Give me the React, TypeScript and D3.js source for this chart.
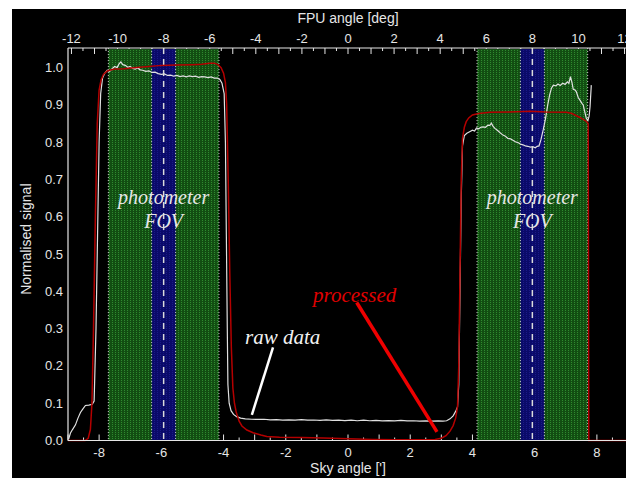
import React from "react";
import * as d3 from "d3";

// raw scan, sky angle ['] and normalised signal
const rawSky = [
  -8.98, -8.92, -8.85, -8.76, -8.68, -8.6, -8.52, -8.44, -8.33, -8.22, -8.16, -8.1, -8.05, -8.0, -7.95,
  -7.89, -7.82, -7.74, -7.66, -7.58, -7.5, -7.42, -7.36, -7.3, -7.24, -7.16, -7.08, -7.0, -6.92, -6.84,
  -6.76, -6.68, -6.6, -6.5, -6.4, -6.3, -6.2, -6.1, -6.0, -5.9, -5.8, -5.7, -5.6, -5.5, -5.4, -5.3, -5.2,
  -5.1, -5.0, -4.9, -4.8, -4.7, -4.6, -4.5, -4.4, -4.3, -4.2, -4.12, -4.05, -3.98, -3.94, -3.91, -3.88,
  -3.86, -3.82, -3.76, -3.68, -3.58, -3.45, -3.3, -3.1, -2.9, -2.7, -2.5, -2.3, -2.1, -1.9, -1.7, -1.5,
  -1.3, -1.1, -0.9, -0.7, -0.5, -0.3, -0.1, 0.1, 0.3, 0.5, 0.7, 0.9, 1.1, 1.3, 1.5, 1.7, 1.9, 2.1, 2.3,
  2.5, 2.7, 2.9, 3.05, 3.17, 3.28, 3.38, 3.46, 3.52, 3.56, 3.6, 3.64, 3.68, 3.74, 3.82, 3.91, 4.0, 4.07,
  4.13, 4.2, 4.27, 4.34, 4.42, 4.5, 4.56, 4.61, 4.66, 4.72, 4.8, 4.88, 4.98, 5.06, 5.14, 5.22, 5.3, 5.38,
  5.46, 5.54, 5.62, 5.7, 5.78, 5.86, 5.94, 6.02, 6.08, 6.14, 6.2, 6.28, 6.35, 6.42, 6.48, 6.54, 6.6, 6.68,
  6.75, 6.82, 6.9, 6.98, 7.05, 7.1, 7.15, 7.2, 7.24, 7.3, 7.34, 7.4, 7.46, 7.52, 7.56, 7.6, 7.66, 7.71,
  7.75, 7.78, 7.82,
];
const rawSignal = [
  0.004, 0.02, 0.03, 0.042, 0.06, 0.075, 0.085, 0.094, 0.095, 0.097, 0.106, 0.3, 0.55, 0.8, 0.93,
  0.972, 0.985, 0.993, 0.99, 0.997, 1.003, 1.0, 1.01, 1.015, 1.008, 1.006, 1.001, 1.003, 0.998, 0.996,
  0.999, 0.994, 0.993, 0.99, 0.991, 0.987, 0.988, 0.984, 0.982, 0.983, 0.979, 0.98, 0.977, 0.979, 0.976,
  0.978, 0.975, 0.978, 0.976, 0.977, 0.974, 0.976, 0.975, 0.973, 0.975, 0.972, 0.972, 0.968, 0.958,
  0.93, 0.8, 0.55, 0.3, 0.15, 0.1, 0.08, 0.07, 0.064, 0.06, 0.058, 0.057, 0.0565, 0.057, 0.0555, 0.056,
  0.0545, 0.0555, 0.0545, 0.056, 0.0545, 0.055, 0.054, 0.0555, 0.054, 0.0545, 0.0535, 0.0545, 0.053,
  0.0545, 0.053, 0.054, 0.0525, 0.0535, 0.0525, 0.054, 0.0525, 0.053, 0.052, 0.0525, 0.052, 0.0525,
  0.052, 0.053, 0.058, 0.066, 0.078, 0.09, 0.15, 0.4, 0.65, 0.79, 0.818, 0.824, 0.828, 0.832, 0.83,
  0.838, 0.836, 0.84, 0.841, 0.84, 0.846, 0.845, 0.851, 0.843, 0.837, 0.832, 0.826, 0.819, 0.816, 0.81,
  0.809, 0.805, 0.801, 0.799, 0.795, 0.793, 0.79, 0.789, 0.787, 0.788, 0.785, 0.789, 0.79, 0.806, 0.835,
  0.864, 0.9, 0.926, 0.945, 0.953, 0.951, 0.956, 0.952, 0.958, 0.955, 0.962, 0.958, 0.976, 0.96, 0.942,
  0.94, 0.935, 0.92, 0.912, 0.904, 0.9, 0.885, 0.864, 0.858, 0.87, 0.895, 0.953,
];

// processed profile
const procSky = [
  -9.0, -8.45, -8.35, -8.28, -8.23, -8.18, -8.12, -8.06, -8.0, -7.94, -7.86, -7.74, -7.6, -7.48, -7.2,
  -6.8, -6.4, -6.0, -5.5, -5.0, -4.7, -4.45, -4.3, -4.18, -4.08, -4.0, -3.94, -3.9, -3.85, -3.8, -3.75,
  -3.7, -3.65, -3.59, -3.5, -3.41, -3.25, -3.05, -2.8, -2.61, -2.2, -1.5, -0.8, 0, 0.8, 1.5, 2.3, 2.8,
  3.0, 3.15, 3.28, 3.38, 3.46, 3.52, 3.56, 3.6, 3.64, 3.68, 3.74, 3.8, 3.88, 4.0, 4.2, 4.56, 5.2, 5.84,
  6.37, 7.02, 7.2, 7.34, 7.44, 7.56, 7.66, 7.72, 7.73, 7.74, 9.0,
];
const procSignal = [
  0.0, 0.0, 0.006, 0.03, 0.1, 0.3, 0.6, 0.85, 0.94, 0.966, 0.982, 0.991, 0.994, 0.996, 0.997, 1.0,
  1.003, 1.006, 1.007, 1.008, 1.009, 1.012, 1.012, 1.008, 1.0, 0.985, 0.96, 0.9, 0.7, 0.45, 0.25, 0.14,
  0.1, 0.075, 0.052, 0.039, 0.028, 0.021, 0.015, 0.011, 0.009, 0.008, 0.007, 0.005, 0.003, 0.002, 0.002,
  0.003, 0.006, 0.013, 0.025, 0.04, 0.06, 0.09, 0.2, 0.45, 0.7, 0.81, 0.84, 0.855, 0.865, 0.873, 0.877,
  0.88, 0.881, 0.883, 0.881, 0.88, 0.877, 0.871, 0.867, 0.861, 0.856, 0.85, 0.5, 0.0, 0.0,
];

const skyLabels = [-8, -6, -4, -2, 0, 2, 4, 6, 8];
const fpuLabels = [-12, -10, -8, -6, -4, -2, 0, 2, 4, 6, 8, 10, 12];
const signalLabels = [0, 0.1, 0.2, 0.3, 0.4, 0.5, 0.6, 0.7, 0.8, 0.9, 1.0];

// photometer field of view, FPU deg
const fovCentres = [-8, 8];
const fovHalfWidth = 2.4;
const coreHalfWidth = 0.52;

const W = 626;
const H = 478;
const left = 68, right = 628, top = 48, bottom = 440.5;
const fpuPerSky = 1.35;

export default function App() {
  const x = d3.scaleLinear().domain([-9, 9]).range([left, right]);
  const xTop = d3.scaleLinear().domain([-9 * fpuPerSky, 9 * fpuPerSky]).range([left, right]);
  const y = d3.scaleLinear().domain([0, 1.0526]).range([bottom, top]);

  const mk = (xs: number[], ys: number[]) =>
    d3
      .line<[number, number]>()
      .x((d) => x(d[0]))
      .y((d) => y(d[1]))(xs.map((v, i) => [v, ys[i]]) as [number, number][]);

  const rawPath = mk(rawSky, rawSignal);
  const procPath = mk(procSky, procSignal);

  const skyTicks = d3.range(-9, 9.01, 0.5);
  const fpuTicks = d3.range(-12, 12.01, 0.5);
  const font = "'Liberation Sans', Arial, sans-serif";
  const serif = "'Liberation Serif', 'DejaVu Serif', serif";
  const fg = "#e6e6e6";

  return (
    <svg width={W} height={H} style={{ position: "absolute", left: 0, top: 0 }}>
      <defs>
        <pattern id="greenTex" width="3" height="2" patternUnits="userSpaceOnUse">
          <rect width="3" height="2" fill="#124e12" />
          <rect x="1" y="0" width="1" height="1" fill="#2f8a2f" />
        </pattern>
        <pattern id="blueTex" width="3" height="2" patternUnits="userSpaceOnUse">
          <rect width="3" height="2" fill="#0a0a6a" />
          <rect x="1" y="0" width="1" height="1" fill="#1a1a86" />
        </pattern>
        <clipPath id="plotClip">
          <rect x={left} y={top} width={right - left} height={bottom - top + 2} />
        </clipPath>
      </defs>
      <rect x={0} y={0} width={W} height={H} fill="#fff" />
      <rect x={12} y={9} width={W - 12} height={H - 9} fill="#000" />

      {/* ticks */}
      {skyTicks.map((t) => (
        <line key={"bs" + t} x1={x(t)} x2={x(t)} y1={bottom} y2={bottom - (Number.isInteger(t) ? 6 : 3)} stroke={fg} strokeWidth={1} />
      ))}
      {fpuTicks.map((t) => (
        <line key={"tf" + t} x1={xTop(t)} x2={xTop(t)} y1={top} y2={top + (Number.isInteger(t) ? 6 : 3)} stroke={fg} strokeWidth={1} />
      ))}

      {/* FOV bands */}
      {fovCentres.map((c) => {
        const g0 = xTop(c - fovHalfWidth), g1 = xTop(c + fovHalfWidth);
        const b0 = xTop(c - coreHalfWidth), b1 = xTop(c + coreHalfWidth);
        const h = bottom - top;
        return (
          <g key={"fov" + c}>
            <rect x={g0} y={top + 1} width={g1 - g0} height={h - 1} fill="url(#greenTex)" />
            <rect x={b0} y={top + 1} width={b1 - b0} height={h - 1} fill="url(#blueTex)" />
            {[g0, g1, b0, b1].map((e, i) => (
              <line key={i} x1={e} x2={e} y1={top} y2={bottom} stroke="#c8c8c8" strokeWidth={1} strokeDasharray="1,2" />
            ))}
            <line x1={xTop(c)} x2={xTop(c)} y1={top} y2={bottom} stroke="#dcdcdc" strokeWidth={1.5} strokeDasharray="6,5" />
            <text x={xTop(c)} y={y(0.635)} fill={fg} fontFamily={serif} fontStyle="italic" fontSize={20} textAnchor="middle">
              photometer
            </text>
            <text x={xTop(c)} y={y(0.57)} fill={fg} fontFamily={serif} fontStyle="italic" fontSize={20} textAnchor="middle">
              FOV
            </text>
          </g>
        );
      })}

      {/* curves */}
      <g clipPath="url(#plotClip)">
        <path d={rawPath || ""} fill="none" stroke="#e0e0e0" strokeWidth={1.2} />
        <path d={procPath || ""} fill="none" stroke="#b40000" strokeWidth={1.5} />
      </g>

      {/* axes */}
      <line x1={left} x2={W} y1={bottom} y2={bottom} stroke={fg} strokeWidth={1.2} />
      <line x1={left} x2={W} y1={top} y2={top} stroke={fg} strokeWidth={1.2} />
      <line x1={left} x2={left} y1={top} y2={bottom} stroke={fg} strokeWidth={1.2} />

      {skyLabels.map((t) => (
        <text key={"sl" + t} x={x(t)} y={457} fill={fg} fontFamily={font} fontSize={13} textAnchor="middle">
          {t}
        </text>
      ))}
      {fpuLabels.map((t) => (
        <text key={"fl" + t} x={xTop(t)} y={43} fill={fg} fontFamily={font} fontSize={13} textAnchor="middle">
          {t}
        </text>
      ))}
      {signalLabels.map((t) => (
        <text key={"yl" + t} x={63} y={y(t) + 4.5} fill={fg} fontFamily={font} fontSize={13} textAnchor="end">
          {t.toFixed(1)}
        </text>
      ))}
      <text x={348} y={23} fill={fg} fontFamily={font} fontSize={14} textAnchor="middle">
        FPU angle [deg]
      </text>
      <text x={348} y={473} fill={fg} fontFamily={font} fontSize={14} textAnchor="middle">
        Sky angle [']
      </text>
      <text transform={`translate(31, ${y(0.54)}) rotate(-90)`} fill={fg} fontFamily={font} fontSize={14} textAnchor="middle">
        Normalised signal
      </text>

      {/* annotations */}
      <line x1={x(-2.41)} y1={y(0.25)} x2={x(-3.09)} y2={y(0.069)} stroke="#fff" strokeWidth={2.5} />
      <text x={x(-3.31)} y={y(0.26)} fill="#f2f2f2" fontFamily={serif} fontStyle="italic" fontSize={21}>
        raw data
      </text>
      <line x1={x(0.28)} y1={y(0.37)} x2={x(2.86)} y2={y(0.023)} stroke="#ee0000" strokeWidth={3.5} />
      <text x={x(-1.125)} y={y(0.371)} fill="#e00000" fontFamily={serif} fontStyle="italic" fontSize={21}>
        processed
      </text>
    </svg>
  );
}
